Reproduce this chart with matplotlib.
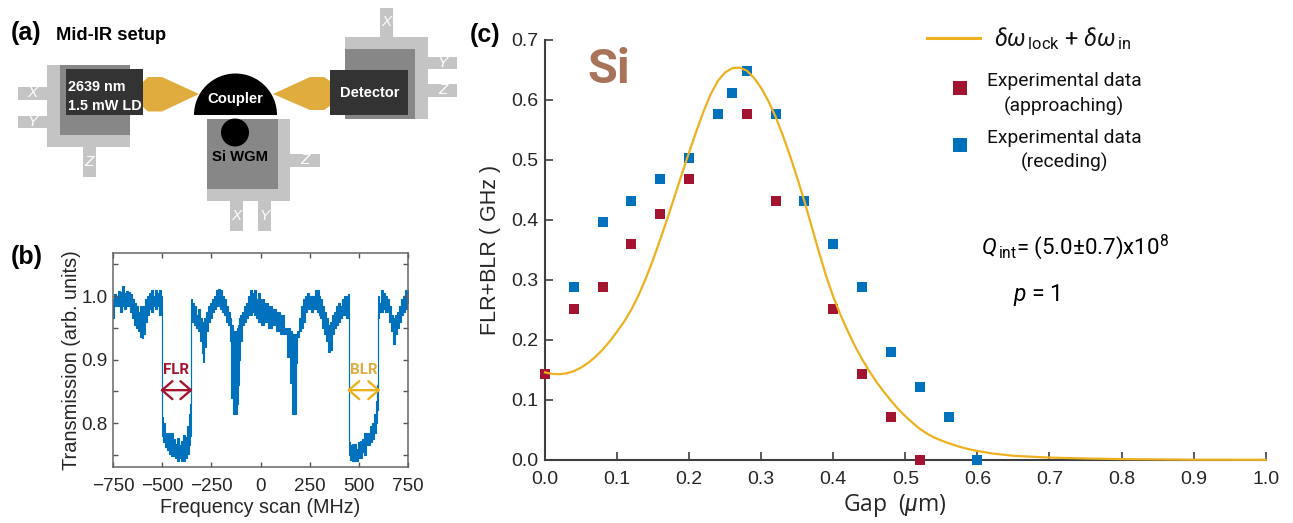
import matplotlib
matplotlib.use("Agg")
import matplotlib.pyplot as plt
from matplotlib.legend_handler import HandlerPathCollection
from matplotlib.patches import Rectangle, Polygon, Circle, Wedge
from matplotlib.ticker import MultipleLocator

W, H = 1293, 523
BLUE = "#0072BD"
RED = "#A2142F"
ORANGE = "#EDB120"
GOLD = "#E0AC3E"
TXT = "#262626"

plt.rcParams["font.family"] = ["Liberation Sans", "DejaVu Sans"]
plt.rcParams["mathtext.fontset"] = "custom"
plt.rcParams["mathtext.rm"] = "Roboto"
plt.rcParams["mathtext.it"] = "Roboto:italic"

# panel (b): envelope of the noisy scan
scan_mhz = [
    -750, -740, -730, -720, -710, -700, -690, -680, -670, -660, -650, -640, -630, -620, -610, -600,
    -590, -580, -570, -560, -550, -540, -530, -520, -510, -502, -500, -497, -490, -480, -470, -460,
    -450, -440, -430, -420, -410, -400, -390, -380, -370, -360, -356, -354, -352, -345, -335, -325,
    -315, -305, -295, -290, -280, -270, -260, -250, -240, -230, -220, -210, -200, -190, -180, -170,
    -160, -150, -145, -135, -125, -118, -112, -105, -100, -90, -80, -70, -60, -50, -40, -30, -20,
    -10, 0, 10, 30, 50, 70, 90, 110, 125, 140, 157, 165, 175, 181, 188,
    200, 210, 220, 230, 240, 250, 260, 270, 280, 290, 300, 310, 320, 330, 340, 350,
    360, 370, 380, 390, 400, 410, 420, 430, 440, 447, 449, 452, 460, 470, 480, 490,
    500, 510, 520, 530, 540, 550, 560, 570, 580, 590, 596, 598, 600, 610, 620, 630,
    640, 650, 660, 670, 680, 690, 700, 710, 720, 730, 740, 750,
]
scan_high = [
    0.995, 1.003, 1.000, 1.008, 1.006, 1.016, 1.005, 1.008, 1.006, 1.004, 0.995, 0.990, 0.985, 0.975, 0.985, 0.975,
    0.985, 0.995, 1.000, 1.005, 1.010, 1.000, 1.010, 1.005, 1.010, 1.000, 0.998, 0.810, 0.800, 0.784, 0.785, 0.785,
    0.784, 0.775, 0.768, 0.777, 0.765, 0.772, 0.782, 0.778, 0.795, 0.815, 0.830, 0.990, 0.995, 0.990, 0.985, 0.970,
    0.980, 0.965, 0.955, 0.960, 0.965, 0.975, 0.985, 0.990, 0.995, 1.000, 1.010, 1.012, 1.010, 1.000, 0.995, 0.985,
    0.975, 0.965, 0.955, 0.945, 0.945, 0.950, 0.955, 0.965, 0.970, 0.975, 0.985, 0.990, 1.000, 1.010, 1.005, 1.010, 0.995,
    1.005, 0.995, 0.995, 0.990, 0.985, 0.980, 0.975, 0.970, 0.950, 0.950, 0.945, 0.940, 0.940, 0.940, 0.945,
    0.965, 0.985, 0.995, 1.000, 1.005, 1.000, 1.000, 1.000, 1.010, 1.010, 1.000, 0.995, 0.985, 0.975, 0.965, 0.955,
    0.960, 0.970, 0.975, 0.985, 0.990, 0.985, 0.995, 1.000, 1.000, 1.003, 1.003, 0.770, 0.765, 0.768, 0.768, 0.760,
    0.770, 0.772, 0.775, 0.785, 0.785, 0.785, 0.795, 0.800, 0.815, 0.835, 0.860, 1.000, 1.000, 0.990, 1.010, 1.005,
    1.000, 0.995, 0.985, 0.970, 0.965, 0.970, 0.975, 0.985, 0.995, 1.000, 1.010, 1.010,
]
scan_low = [
    0.965, 0.985, 0.985, 0.985, 0.975, 0.985, 0.980, 0.985, 0.985, 0.975, 0.965, 0.955, 0.950, 0.945, 0.935, 0.934,
    0.940, 0.960, 0.970, 0.980, 0.975, 0.985, 0.980, 0.985, 0.970, 0.975, 0.800, 0.780, 0.770, 0.763, 0.758, 0.752,
    0.749, 0.748, 0.745, 0.740, 0.745, 0.740, 0.740, 0.745, 0.752, 0.765, 0.780, 0.820, 0.960, 0.960, 0.955, 0.950,
    0.945, 0.930, 0.910, 0.897, 0.920, 0.945, 0.960, 0.965, 0.975, 0.980, 0.985, 0.985, 0.980, 0.975, 0.970, 0.960,
    0.955, 0.930, 0.840, 0.815, 0.815, 0.830, 0.860, 0.900, 0.930, 0.955, 0.960, 0.965, 0.970, 0.970, 0.975, 0.970, 0.965,
    0.960, 0.960, 0.955, 0.960, 0.950, 0.955, 0.945, 0.940, 0.940, 0.904, 0.863, 0.815, 0.815, 0.894, 0.935,
    0.945, 0.950, 0.960, 0.975, 0.980, 0.980, 0.975, 0.980, 0.980, 0.975, 0.970, 0.965, 0.950, 0.940, 0.930, 0.912,
    0.915, 0.940, 0.950, 0.955, 0.960, 0.965, 0.970, 0.970, 0.965, 0.975, 0.770, 0.750, 0.742, 0.740, 0.740, 0.740,
    0.745, 0.745, 0.755, 0.750, 0.765, 0.765, 0.770, 0.775, 0.785, 0.800, 0.820, 0.830, 0.965, 0.975, 0.975, 0.980,
    0.975, 0.975, 0.960, 0.945, 0.925, 0.940, 0.950, 0.960, 0.970, 0.975, 0.980, 0.990,
]

# panel (c)
fit_gap = [0.0, 0.01, 0.02, 0.03, 0.04, 0.05, 0.06, 0.07, 0.08, 0.09, 0.10, 0.11, 0.12, 0.13, 0.14, 0.15, 0.16,
           0.17, 0.18, 0.19, 0.20, 0.21, 0.22, 0.23, 0.24, 0.25, 0.26, 0.27, 0.28, 0.29, 0.30, 0.31, 0.32, 0.33,
           0.34, 0.35, 0.36, 0.37, 0.38, 0.39, 0.40, 0.41, 0.42, 0.43, 0.44, 0.45, 0.46, 0.47, 0.48, 0.49, 0.50,
           0.51, 0.52, 0.53, 0.54, 0.55, 0.56, 0.57, 0.58, 0.59, 0.60, 0.62, 0.65, 0.70, 0.75, 0.80, 0.90, 1.0]
fit_val = [0.146, 0.1435, 0.143, 0.1445, 0.148, 0.154, 0.162, 0.172, 0.184, 0.198, 0.214, 0.231, 0.251, 0.275, 0.303,
           0.334, 0.368, 0.403, 0.440, 0.477, 0.513, 0.548, 0.581, 0.610, 0.632, 0.646, 0.653, 0.654, 0.649, 0.637,
           0.620, 0.598, 0.572, 0.541, 0.507, 0.470, 0.431, 0.389, 0.347, 0.307, 0.272, 0.242, 0.215, 0.190, 0.168,
           0.148, 0.130, 0.114, 0.099, 0.085, 0.073, 0.062, 0.052, 0.044, 0.0375, 0.0325, 0.028, 0.024, 0.0205, 0.0175,
           0.015, 0.011, 0.007, 0.004, 0.0025, 0.0015, 0.0005, 0.0003]
appr_gap = [0.0, 0.04, 0.08, 0.12, 0.16, 0.2, 0.28, 0.32, 0.4, 0.44, 0.48, 0.52]
appr_val = [0.144, 0.252, 0.288, 0.36, 0.41, 0.468, 0.576, 0.432, 0.252, 0.144, 0.072, 0.0]
rec_gap = [0.04, 0.08, 0.12, 0.16, 0.2, 0.24, 0.26, 0.28, 0.32, 0.36, 0.4, 0.44, 0.48, 0.52, 0.56, 0.6]
rec_val = [0.288, 0.396, 0.432, 0.468, 0.504, 0.576, 0.612, 0.648, 0.576, 0.432, 0.36, 0.288, 0.18, 0.122, 0.072, 0.0]


def px_axes(x0, y0, x1, y1):
    # axes box given in image pixels (y from the top)
    return fig.add_axes([x0 / W, 1 - y1 / H, (x1 - x0) / W, (y1 - y0) / H])


class ShiftedKey(HandlerPathCollection):
    # legend squares sit right of the middle of the key
    def get_xdata(self, legend, xdescent, ydescent, width, height, fontsize):
        xd, xo = super().get_xdata(legend, xdescent, ydescent, width, height, fontsize)
        return [x + 4.5 for x in xd], [x + 4.5 for x in xo]


fig = plt.figure(figsize=(W / 100, H / 100), dpi=100)

# overlay in pixel coordinates for the schematic and free text
ov = fig.add_axes([0, 0, 1, 1], zorder=5)
ov.set_xlim(0, W)
ov.set_ylim(H, 0)
ov.axis("off")
ov.patch.set_alpha(0)


def box(x0, y0, x1, y1, c):
    ov.add_patch(Rectangle((x0, y0), x1 - x0, y1 - y0, fc=c, ec="none"))


def tab(x0, y0, x1, y1, name):
    box(x0, y0, x1, y1, LIGHT)
    ov.text((x0 + x1) / 2, (y0 + y1) / 2, name, color="white", style="italic", fontsize=11,
            ha="center", va="center")


LIGHT = "#C4C4C4"
MID = "#878787"
DARK = "#333333"

ov.text(11, 33, "(a)", fontsize=18, fontweight="bold", color="black", va="center")
ov.text(56, 36, "Mid-IR setup", fontsize=13.2, fontweight="bold", color="black", va="center")
ov.text(11, 257, "(b)", fontsize=18, fontweight="bold", color="black", va="center")
ov.text(470, 35, "(c)", fontsize=18, fontweight="bold", color="black", va="center")

# laser stage
box(47, 65, 130, 147, LIGHT)
box(60, 65, 130, 135, MID)
box(65.5, 69, 143, 115, DARK)
tab(18, 87, 47, 99.5, "X")
tab(18, 116, 47, 127.5, "Y")
tab(83, 147, 95.5, 177, "Z")
ov.text(68, 96.5, "2639 nm\n1.5 mW LD", color="white", fontweight="bold", fontsize=10.4, va="center",
        linespacing=1.45)
ov.add_patch(Polygon([(143, 82), (148, 77), (162, 77), (199, 94), (162, 111.5), (148, 111.5), (143, 107)],
                     fc=GOLD, ec="none"))

# coupler and resonator stage
ov.add_patch(Wedge((235.5, 115), 41.5, 180, 360, fc="black", ec="none"))
ov.text(235.5, 99, "Coupler", color="white", fontweight="bold", fontsize=10.7, ha="center", va="center")
box(207, 119, 290, 201, LIGHT)
box(207, 119, 278, 189, MID)
tab(290, 154, 320, 167, "Z")
tab(230, 201, 243, 231, "X")
tab(258, 201, 271, 231, "Y")
ov.add_patch(Circle((235, 132.5), 14, fc="black", ec="none"))
ov.text(240, 157, "Si WGM", color="black", fontweight="bold", fontsize=10.7, ha="center", va="center")

# detector stage
ov.add_patch(Polygon([(273, 94), (310, 77), (324, 77), (330, 81), (330, 106), (324, 110), (310, 110)],
                     fc=GOLD, ec="none"))
box(345, 37, 428, 119, LIGHT)
box(345, 49, 415, 119, MID)
box(330, 70, 407.5, 115, DARK)
tab(380, 7.5, 393, 37, "X")
tab(428, 57, 457, 69, "Y")
tab(428, 84, 457, 97, "Z")
ov.text(370, 93, "Detector", color="white", fontweight="bold", fontsize=10.5, ha="center", va="center")

# panel (b)
axb = px_axes(113, 253, 408, 467)
axb.fill_between(scan_mhz, scan_low, scan_high, color=BLUE, lw=0.8, step="mid")
axb.set_xlim(-750, 750)
axb.set_ylim(0.731, 1.068)
axb.set_xticks([-750, -500, -250, 0, 250, 500, 750])
axb.set_xticklabels(["\u2212750", "\u2212500", "\u2212250", "0", "250", "500", "750"])
axb.set_yticks([0.8, 0.9, 1.0])
axb.yaxis.set_minor_locator(MultipleLocator(0.05))
axb.tick_params(which="both", direction="in", top=True, right=True, length=3.5, width=1, color="#555555",
                labelsize=13.6, labelcolor=TXT)
axb.tick_params(axis="x", pad=8)
axb.tick_params(axis="y", pad=4)
for s in axb.spines.values():
    s.set_color("#666666")
    s.set_linewidth(1.1)
axb.set_xlabel("Frequency scan (MHz)", fontsize=14.2, color=TXT, labelpad=2)
axb.set_ylabel("Transmission (arb. units)", fontsize=14.4, color=TXT, labelpad=0)
arrow = dict(lw=1.7, mutation_scale=17, shrinkA=0, shrinkB=0)
head = "<->,head_length=0.44,head_width=0.38"
axb.annotate("", (-510, 0.852), (-345, 0.852), arrowprops=dict(arrowstyle=head, color=RED, **arrow))
axb.annotate("", (440, 0.852), (610, 0.852), arrowprops=dict(arrowstyle=head, color=ORANGE, **arrow))
axb.text(-430, 0.884, "FLR", color=RED, fontsize=10.8, fontweight="bold", family="Roboto", ha="center", va="center")
axb.text(525, 0.884, "BLR", color=GOLD, fontsize=10.8, fontweight="bold", family="Roboto", ha="center", va="center")

# panel (c)
axc = px_axes(545, 40, 1265.7, 460)
axc.scatter(rec_gap, rec_val, marker="s", s=62, color=BLUE, lw=0, clip_on=False, zorder=3,
            label="Experimental data\n(receding)")
axc.scatter(appr_gap, appr_val, marker="s", s=62, color=RED, lw=0, clip_on=False, zorder=3,
            label="Experimental data\n(approaching)")
line, = axc.plot(fit_gap, fit_val, color=ORANGE, lw=1.6, clip_on=False, zorder=4,
                 label=r"$\delta\omega_{\,\mathrm{lock}}$ + $\delta\omega_{\,\mathrm{in}}$")
axc.set_xlim(0, 1)
axc.set_ylim(0, 0.7)
axc.set_xticks([i / 10 for i in range(11)])
axc.set_yticks([i / 10 for i in range(8)])
axc.tick_params(direction="in", length=6, width=1.2, color="#404040", labelsize=14, labelcolor=TXT)
axc.tick_params(axis="x", pad=8)
axc.tick_params(axis="y", pad=5)
axc.spines["top"].set_visible(False)
axc.spines["right"].set_visible(False)
axc.spines["left"].set_color("#404040")
axc.spines["bottom"].set_color("#404040")
axc.spines["left"].set_linewidth(1.5)
axc.spines["bottom"].set_linewidth(1.5)
axc.set_xlabel(r"Gap  ($\mathit{\mu}$m)", fontsize=16.5, family="Open Sans", color=TXT, labelpad=3, x=0.486)
axc.set_ylabel("FLR+BLR ( GHz )", fontsize=15.5, color=TXT, labelpad=7)

handles, labels = axc.get_legend_handles_labels()
order = [2, 1, 0]
key = ShiftedKey()
leg = axc.legend([handles[i] for i in order], [labels[i] for i in order], loc="upper left",
                 bbox_to_anchor=(927, 24), bbox_transform=ov.transData, frameon=False, borderpad=0,
                 borderaxespad=0, handlelength=2.75, handletextpad=0.35, labelspacing=0.7, markerscale=1.2,
                 prop=dict(family="Roboto", size=13.9), handler_map={handles[0]: key, handles[1]: key})
for t in leg.get_texts():
    t.set_multialignment("center")
    t.set_color("#111111")
    t.set_linespacing(1.4)
    t.set_position((0, -8))
leg.get_texts()[0].set_fontsize(16.8)
leg.get_texts()[0].set_position((7, -1))
leg.get_lines()[0].set_linewidth(2.2)

ov.text(587, 70, "Si", color="#A9735A", fontsize=35, fontweight="bold", family="Roboto", va="center")
ov.text(981, 247, r"$Q_{\,\mathrm{int}}$= (5.0±0.7)x10$^{8}$", fontsize=16, family="Roboto", color="black",
        va="center")
ov.text(1013, 295, r"$p$ = 1", fontsize=16.5, family="Roboto", color="black", va="center")

fig.savefig("out.png", dpi=100)
